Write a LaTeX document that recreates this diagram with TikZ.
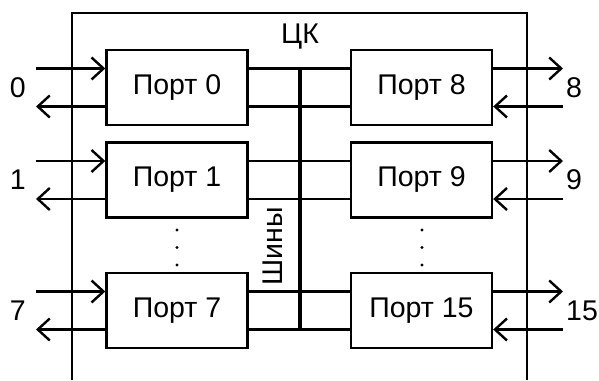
\documentclass[tikz,border=0pt]{standalone}
\usepackage{fontspec}
\setmainfont{Liberation Sans}
\usetikzlibrary{arrows.meta}
\tikzset{
  port/.style={rectangle, draw=black, line width=2.4pt, font=\fontsize{28.5}{30}\selectfont,
               minimum width=141pt, minimum height=75pt, inner sep=0pt},
  lbl/.style={font=\fontsize{28.5}{30}\selectfont, inner sep=0pt},
  wire/.style={line width=2.4pt},
  arrowWire/.style={->, line width=2.4pt},
  busLine/.style={line width=4.5pt}
}

\begin{document}
\begin{tikzpicture}[x=1pt, y=-1pt, >={Straight Barb[length=12pt, width=22pt, line width=2.4pt]}]
\useasboundingbox (0,0) rectangle (599,380);

% Frame of the switch
\draw[wire] (72,380) -- (72,13) -- (527,13) -- (527,380);

% Bus
\coordinate (bustop) at (300,68);
\coordinate (busbot) at (300,331);
\draw[busLine] (bustop) -- (busbot);
\node[lbl] (ck) at (300,37) {ЦК};
\node[lbl, rotate=90] (shiny) at (273,246) {Шины};

% Free ends of the outer lines
\coordinate (leftend) at (36,0);
\coordinate (rightend) at (563,0);

% Left ports
\foreach \n/\y in {0/87.5, 1/180, 7/310.5} {
  \node[port] (L\n) at (177,\y) {Порт \n};
  \node[lbl, anchor=east] (tL\n) at (26,\y) {\n};
  \coordinate (L\n a) at ([yshift=19pt]L\n.west);
  \coordinate (L\n b) at ([yshift=-19pt]L\n.west);
  \coordinate (L\n c) at ([yshift=19pt]L\n.east);
  \coordinate (L\n d) at ([yshift=-19pt]L\n.east);
  \draw[arrowWire] (L\n a -| leftend) -- (L\n a);
  \draw[arrowWire] (L\n b) -- (L\n b -| leftend);
  \draw[wire] (L\n c) -- (L\n c -| bustop);
  \draw[wire] (L\n d) -- (L\n d -| bustop);
}

% Right ports
\foreach \n/\y in {8/87.5, 9/180, 15/310.5} {
  \node[port] (R\n) at (421.5,\y) {Порт \n};
  \node[lbl, anchor=west] (tR\n) at (566,\y) {\n};
  \coordinate (R\n a) at ([yshift=19pt]R\n.east);
  \coordinate (R\n b) at ([yshift=-19pt]R\n.east);
  \coordinate (R\n c) at ([yshift=19pt]R\n.west);
  \coordinate (R\n d) at ([yshift=-19pt]R\n.west);
  \draw[arrowWire] (R\n a) -- (R\n a -| rightend);
  \draw[arrowWire] (R\n b -| rightend) -- (R\n b);
  \draw[wire] (R\n c) -- (R\n c -| bustop);
  \draw[wire] (R\n d) -- (R\n d -| bustop);
}

% Dots between ports
\foreach \x in {177, 422} {
  \foreach \y in {230, 247.5, 265} {
    \fill (\x,\y) circle (1.7);
  }
}

\end{tikzpicture}
\end{document}
